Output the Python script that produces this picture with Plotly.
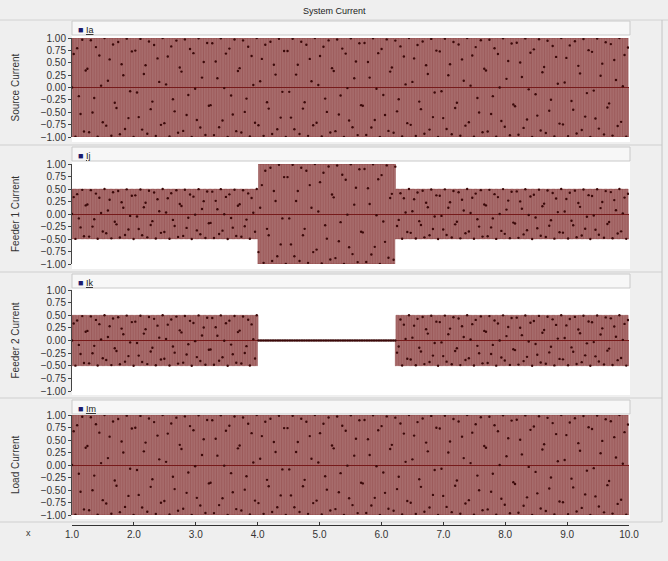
import numpy as np
import plotly.graph_objects as go

# ---- signal description -------------------------------------------------
time_start, time_end = 1.0, 10.0
frequency_hz = 50.0

# switching instants (s) and the peak current held in each interval
switch_times = [1.0, 4.01, 6.23, 10.0]
source_amp = [1.0, 1.0, 1.0]
feeder1_amp = [0.5, 1.0, 0.5]
feeder2_amp = [0.5, 0.0, 0.5]
load_amp = [1.0, 1.0, 1.0]

panel_titles = ["Source Current", "Feeder 1 Current", "Feeder 2 Current", "Load Current"]
legend_names = ["Ia", "Ij", "Ik", "Im"]

y_tick_vals = [1.0, 0.75, 0.5, 0.25, 0.0, -0.25, -0.5, -0.75, -1.0]
x_tick_vals = [1.0, 2.0, 3.0, 4.0, 5.0, 6.0, 7.0, 8.0, 9.0, 10.0]

# ---- layout geometry (pixels in a 668 x 561 page) -----------------------
W, H = 668, 561
X0, X1 = 72, 629
# (legend strip top, data top (+1), data bottom (-1), panel bottom)
panels_px = [(21, 38, 137, 145), (147, 164, 264, 272), (274, 290, 391, 398), (400, 415, 515, 522)]
X_AXIS_PX = 525

WAVE = "#761c1c"
DOT = "#3a0808"
FONT = "Liberation Sans, Arial, sans-serif"


def px(x):
    return x / W


def py(y):
    return 1 - y / H


def waveform(t, amps):
    idx = np.clip(np.searchsorted(switch_times, t, side="right") - 1, 0, len(amps) - 1)
    return np.asarray(amps)[idx] * np.sin(2 * np.pi * frequency_hz * t)


# the trace is held between its crest samples (one per half cycle)
half_period = 0.5 / frequency_hz
t_line = np.concatenate([[time_start],
                         np.arange(time_start + half_period / 2, time_end, half_period),
                         [time_end]])
# coarser recorded samples, drawn as dots
t_dots = np.arange(time_start, time_end, 0.02764)

fig = go.Figure()
shapes = []
annotations = []

for i, amps in enumerate([source_amp, feeder1_amp, feeder2_amp, load_amp]):
    n = "" if i == 0 else str(i + 1)
    strip_top, d_top, d_bot, p_bot = panels_px[i]

    fig.add_trace(go.Scatter(
        x=t_line, y=waveform(t_line, amps), mode="lines",
        line=dict(color=WAVE, width=0.55, shape="vh", simplify=False),
        xaxis="x" + n, yaxis="y" + n, hoverinfo="skip", showlegend=False,
    ))
    fig.add_trace(go.Scatter(
        x=t_dots, y=waveform(t_dots, amps), mode="markers",
        marker=dict(color=DOT, size=2.4), xaxis="x" + n, yaxis="y" + n,
        hoverinfo="skip", showlegend=False,
    ))

    fig.update_layout({
        "yaxis" + n: dict(
            domain=[py(d_bot), py(d_top)], range=[-1, 1], anchor="x" + n, automargin=False,
            tickvals=y_tick_vals, tickformat=".2f", ticks="outside", ticklen=3,
            tickcolor="#444", showline=True, linecolor="#444", linewidth=1,
            showgrid=False, zeroline=True, zerolinecolor="#7a1f1f", zerolinewidth=1,
            tickfont=dict(family=FONT, size=10, color="#333"), fixedrange=True,
        ),
        "xaxis" + n: dict(
            domain=[px(X0), px(X1)], range=[time_start, time_end], automargin=False,
            anchor="y" + n if i < 3 else "free",
            position=py(X_AXIS_PX) if i == 3 else None,
            showticklabels=(i == 3), showline=(i == 3), linecolor="#333",
            ticks="inside" if i == 3 else "", ticklen=3, tickcolor="#333",
            tickvals=x_tick_vals, tickformat=".1f", showgrid=False, zeroline=False,
            tickfont=dict(family=FONT, size=10, color="#333"), fixedrange=True,
        ),
    })

    # panel frame: legend strip above a white plotting area
    shapes.append(dict(type="rect", xref="paper", yref="paper", layer="below",
                       x0=px(X0), x1=px(X1 + 1), y0=py(p_bot - 3), y1=py(strip_top + 14),
                       fillcolor="white", line=dict(width=0)))
    shapes.append(dict(type="rect", xref="paper", yref="paper", layer="below",
                       x0=px(X0), x1=px(X1 + 1), y0=py(strip_top + 14), y1=py(strip_top),
                       fillcolor="#f7f7f7", line=dict(color="#c9c9c9", width=1)))
    shapes.append(dict(type="line", xref="paper", yref="paper", layer="below",
                       x0=0, x1=px(662), y0=py(p_bot), y1=py(p_bot),
                       line=dict(color="#cfcfcf", width=1)))

    # legend entry
    annotations.append(dict(xref="paper", yref="paper", x=px(76), y=py(strip_top + 9),
                            xanchor="left", yanchor="middle", showarrow=False,
                            text="<span style='color:#1a1a6e'>■</span> <u>%s</u>" % legend_names[i],
                            font=dict(family=FONT, size=9, color="#222")))
    # panel title
    annotations.append(dict(xref="paper", yref="paper", x=px(15), y=py((d_top + d_bot) / 2),
                            xanchor="center", yanchor="middle", showarrow=False, textangle=-90,
                            text=panel_titles[i], font=dict(family=FONT, size=10, color="#333")))

# header strip and right-hand border
shapes.append(dict(type="line", xref="paper", yref="paper", layer="below",
                   x0=0, x1=1, y0=py(20), y1=py(20), line=dict(color="#d2d2d2", width=1)))
shapes.append(dict(type="line", xref="paper", yref="paper", layer="below",
                   x0=px(662), x1=px(662), y0=py(20), y1=py(522), line=dict(color="#c4c4c4", width=1)))

annotations.append(dict(xref="paper", yref="paper", x=0.5, y=py(11), xanchor="center",
                        yanchor="middle", showarrow=False, text="System Current",
                        font=dict(family=FONT, size=9, color="#222")))
annotations.append(dict(xref="paper", yref="paper", x=px(28), y=py(533), xanchor="center",
                        yanchor="middle", showarrow=False, text="x",
                        font=dict(family=FONT, size=9, color="#333")))

fig.update_layout(
    template="none",
    width=W, height=H, margin=dict(l=0, r=0, t=0, b=0),
    paper_bgcolor="#efefef", plot_bgcolor="rgba(0,0,0,0)",
    shapes=shapes, annotations=annotations, showlegend=False,
)

fig.write_html("out.html", config={"displayModeBar": False})
